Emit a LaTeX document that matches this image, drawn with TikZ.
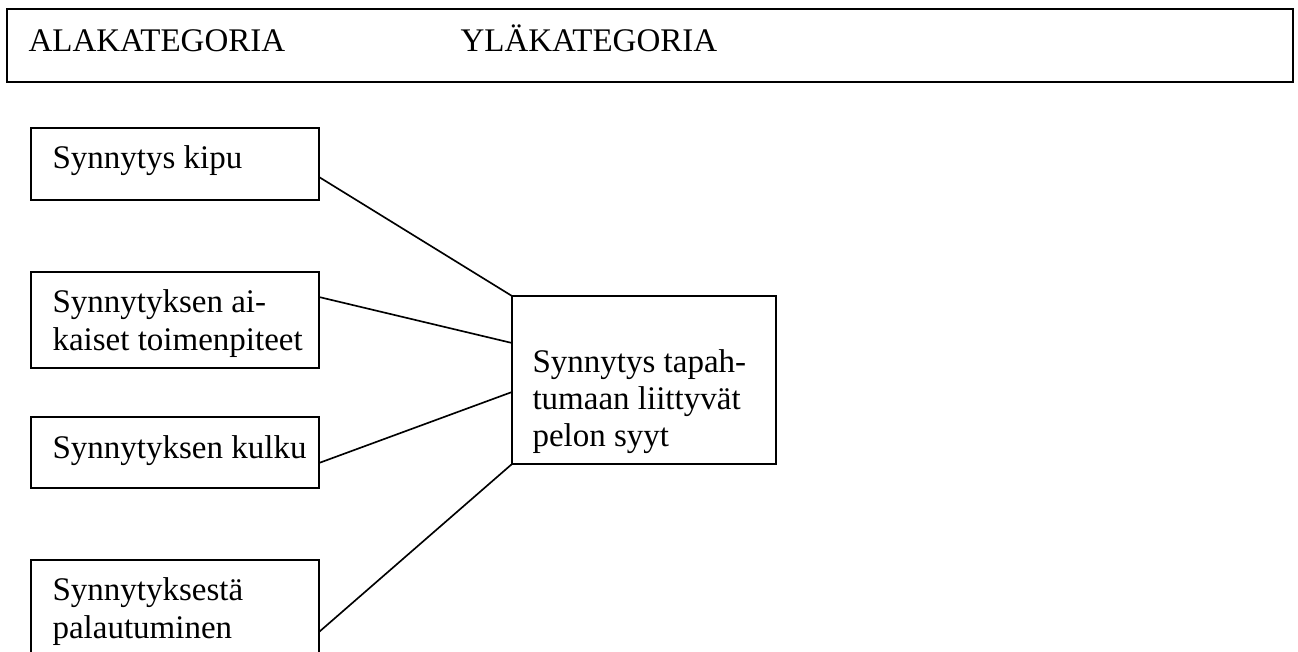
\documentclass[tikz,border=0pt]{standalone}
\usepackage{fontspec}
\setmainfont{Liberation Serif}
\usetikzlibrary{calc}
\begin{document}
\begin{tikzpicture}[x=0.3636pt,y=-0.3636pt,
  box/.style={draw,line width=0.6pt,inner sep=0pt,outer sep=0pt},
  lbl/.style={anchor=base west,inner sep=0pt,font=\fontsize{12}{13.8}\selectfont},
  link/.style={line width=0.6pt}]
  \useasboundingbox (0,0) rectangle (1298,652);
  \clip (0,0) rectangle (1298,652);
  % header band
  \node[box,line width=0.9pt,minimum width=1286*0.3636pt,minimum height=73*0.3636pt] (head) at (650,45.5) {};
  \node[lbl] (ala) at (28,52) {ALAKATEGORIA};
  \node[lbl] (yla) at (460,52) {YLÄKATEGORIA};
  % subcategory boxes
  \node[box,minimum width=288*0.3636pt,minimum height=72*0.3636pt] (b1) at (175,164) {};
  \node[box,minimum width=288*0.3636pt,minimum height=96*0.3636pt] (b2) at (175,320) {};
  \node[box,minimum width=288*0.3636pt,minimum height=71*0.3636pt] (b3) at (175,452.5) {};
  \node[box,minimum width=288*0.3636pt,minimum height=96*0.3636pt] (b4) at (175,608) {};
  \node[lbl] (t1) at (52,169) {Synnytys kipu};
  \node[lbl] (t2a) at (52,313) {Synnytyksen ai-};
  \node[lbl] (t2b) at (52,351) {kaiset toimenpiteet};
  \node[lbl] (t3) at (52,458) {Synnytyksen kulku};
  \node[lbl] (t4a) at (52,600) {Synnytyksestä};
  \node[lbl] (t4b) at (52,638) {palautuminen};
  % main category box
  \node[box,minimum width=264*0.3636pt,minimum height=168*0.3636pt] (c) at (644,380) {};
  \node[lbl] (tc1) at (532,373) {Synnytys tapah-};
  \node[lbl] (tc2) at (532,410) {tumaan liittyvät};
  \node[lbl] (tc3) at (532,447) {pelon syyt};
  % connectors
  \draw[link] ($(b1.east)+(0,13)$) -- (c.north west);
  \draw[link] ($(b2.east)+(0,-23)$) -- ($(c.west)+(0,-37)$);
  \draw[link] ($(b3.east)+(0,10.5)$) -- ($(c.west)+(0,12)$);
  \draw[link] ($(b4.east)+(0,24)$) -- (c.south west);
\end{tikzpicture}
\end{document}
